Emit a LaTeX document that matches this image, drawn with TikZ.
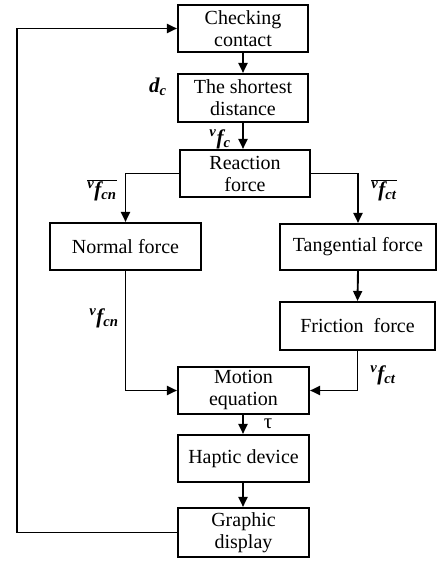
\documentclass[tikz,border=0pt]{standalone}
\usepackage{fontspec}
\setmainfont{Liberation Serif}
\usetikzlibrary{arrows.meta}
\newcommand{\vlab}[1]{{\bfseries\itshape\textsuperscript{v}f\textsubscript{#1}}}
\begin{document}
\begin{tikzpicture}[x=1pt,y=-1pt,
  blk/.style={draw,line width=2.1pt,rectangle,inner sep=0pt,align=center,font=\fontsize{20}{22}\selectfont},
  arr/.style={line width=1.9pt,-{Triangle[length=10pt,width=9pt]}},
  lab/.style={font=\fontsize{21}{22}\selectfont,inner sep=0pt}]
\useasboundingbox (0,0) rectangle (437,561);
\node[blk,minimum width=130pt,minimum height=47pt] (check) at (243,28.5) {Checking\\contact};
\node[blk,minimum width=130pt,minimum height=48pt] (short) at (243,98) {The shortest\\distance};
\node[blk,minimum width=130pt,minimum height=47pt] (react) at (245,173.5) {Reaction\\force};
\node[blk,minimum width=151pt,minimum height=47pt] (normal) at (125.5,246.5) {Normal force};
\node[blk,minimum width=156pt,minimum height=46pt] (tang) at (358,247) {Tangential force};
\node[blk,minimum width=155pt,minimum height=48pt] (fric) at (357.5,326) {Friction\ \ force};
\node[blk,minimum width=131pt,minimum height=47pt] (motion) at (243.5,390.5) {Motion\\equation};
\node[blk,minimum width=131pt,minimum height=47pt] (haptic) at (243.5,458.5) {Haptic device};
\node[blk,minimum width=131pt,minimum height=49pt] (graphic) at (243.5,532.5) {Graphic\\display};
\coordinate (fb) at (17,300);
\coordinate (cx) at (243,0);
\draw[arr] (check.south -| cx) -- (short.north -| cx);
\draw[arr] (short.south -| cx) -- (react.north -| cx);
\draw[arr] (react.west) -| (normal.north);
\draw[arr] (react.east) -| (tang.north);
\draw[arr] (tang.south) -- (fric.north);
\draw[arr] (normal.south) |- (motion.west);
\draw[arr] (fric.south) |- (motion.east);
\draw[arr] (motion.south -| cx) -- (haptic.north -| cx);
\draw[arr] (haptic.south -| cx) -- (graphic.north -| cx);
\draw[arr] (graphic.west) -| (fb) |- (check.west);
\node[lab] (ldc) at (158,87) {\bfseries\itshape d\textsubscript{c}};
\node[lab] (lfc) at (220,139) {\vlab{c}};
\node[lab] (lfcn1) at (102,190) {$\overline{\hbox{\vlab{cn}}}$};
\node[lab] (lfct1) at (384,190) {$\overline{\hbox{\vlab{ct}}}$};
\node[lab] (lfcn2) at (104,318) {\vlab{cn}};
\node[lab] (lfct2) at (383,375) {\vlab{ct}};
\node[lab] (ltau) at (268,424) {τ};
\end{tikzpicture}
\end{document}
